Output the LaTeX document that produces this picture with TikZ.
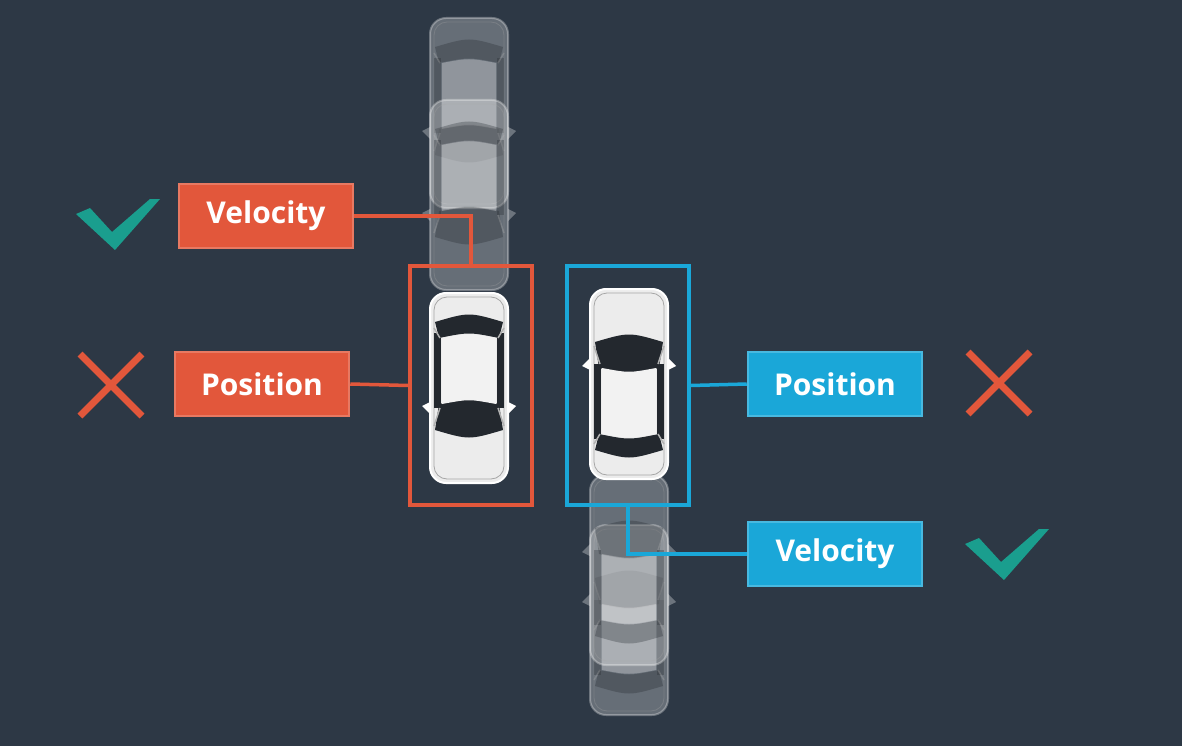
\documentclass[tikz,border=0pt]{standalone}
\usepackage{fontspec}
\setmainfont{Open Sans}
\begin{document}
\definecolor{bg}{HTML}{2D3845}
\definecolor{rd}{HTML}{E2573B}
\definecolor{bl}{HTML}{1AA7D8}
\definecolor{tl}{HTML}{1A9E8E}
\definecolor{dk}{HTML}{23282E}
\begin{tikzpicture}[x=1pt,y=-1pt,
  lab/.style={minimum width=174pt,minimum height=64pt,inner sep=0pt,text=white,font=\fontsize{30}{30}\selectfont\bfseries,line width=2.5pt},
  rlab/.style={lab,fill=rd,draw=rd!80!white},
  blab/.style={lab,fill=bl,draw=bl!80!white},
  box/.style={line width=3.5pt},
  car/.pic={
    \fill[white] (-47,18) -- (-39,14) -- (-39,26) -- cycle;
    \fill[white] (47,18) -- (39,14) -- (39,26) -- cycle;
    \draw[line width=2pt,draw=white,fill=gray!15,rounded corners=16pt] (-39,-95) rectangle (39,95);
    \draw[line width=0.8pt,draw=gray!70,rounded corners=13pt] (-35,-91) rectangle (35,91);
    \fill[dk] (-34,-66) .. controls (0,-76) .. (34,-66) -- (30,-50) .. controls (0,-56) .. (-30,-50) -- cycle;
    \fill[dk] (-34,42) .. controls (0,52) .. (34,42) -- (30,16) .. controls (0,10) .. (-30,16) -- cycle;
    \fill[dk] (-35,-55) rectangle (-28,20);
    \fill[dk] (35,-55) rectangle (28,20);
    \draw[gray!60,line width=1.5pt] (-35,-60)--(-29,-50) (35,-60)--(29,-50) (-35,38)--(-29,20) (35,38)--(29,20);
    \fill[gray!10] (-27,-50) .. controls (0,-55) .. (27,-50) -- (27,16) .. controls (0,11) .. (-27,16) -- cycle;
  }]
\fill[bg] (0,0) rectangle (1182,746);
\useasboundingbox (0,0) rectangle (1182,746);
\begin{scope}[opacity=0.3]
\pic at (469,113) {car};
\pic at (469,195) {car};
\pic[rotate=180] at (629,620) {car};
\pic[rotate=180] at (629,570) {car};
\end{scope}
\pic (cl) at (469,388) {car};
\pic[rotate=180] (cr) at (629,384) {car};
\node[box,draw=rd,minimum width=122pt,minimum height=239pt] (rb) at (471,385.5) {};
\node[box,draw=bl,minimum width=122pt,minimum height=239pt] (bb) at (628,385.5) {};
\node[rlab] (rv) at (266,216) {Velocity};
\node[rlab] (rp) at (262,384) {Position};
\node[blab] (bp) at (835,384) {Position};
\node[blab] (bv) at (835,554) {Velocity};
\draw[rd,line width=3.5pt] (rv.east) -| (rb.north);
\draw[rd,line width=3.5pt] (rp.east) -- (rb.west);
\draw[bl,line width=3.5pt] (bb.east) -- (bp.west);
\draw[bl,line width=3.5pt] (bb.south) |- (bv.west);
\fill[tl] (76,214) -- (90,208) -- (112,232) -- (150,199) -- (160,199) -- (115,250) -- cycle;
\fill[tl] (965,544) -- (979,538) -- (1001,562) -- (1039,529) -- (1049,529) -- (1004,580) -- cycle;
\draw[rd,line width=7pt] (80,354)--(142,416) (80,416)--(142,354);
\draw[rd,line width=7pt] (968,352)--(1030,414) (968,414)--(1030,352);
\end{tikzpicture}
\end{document}
